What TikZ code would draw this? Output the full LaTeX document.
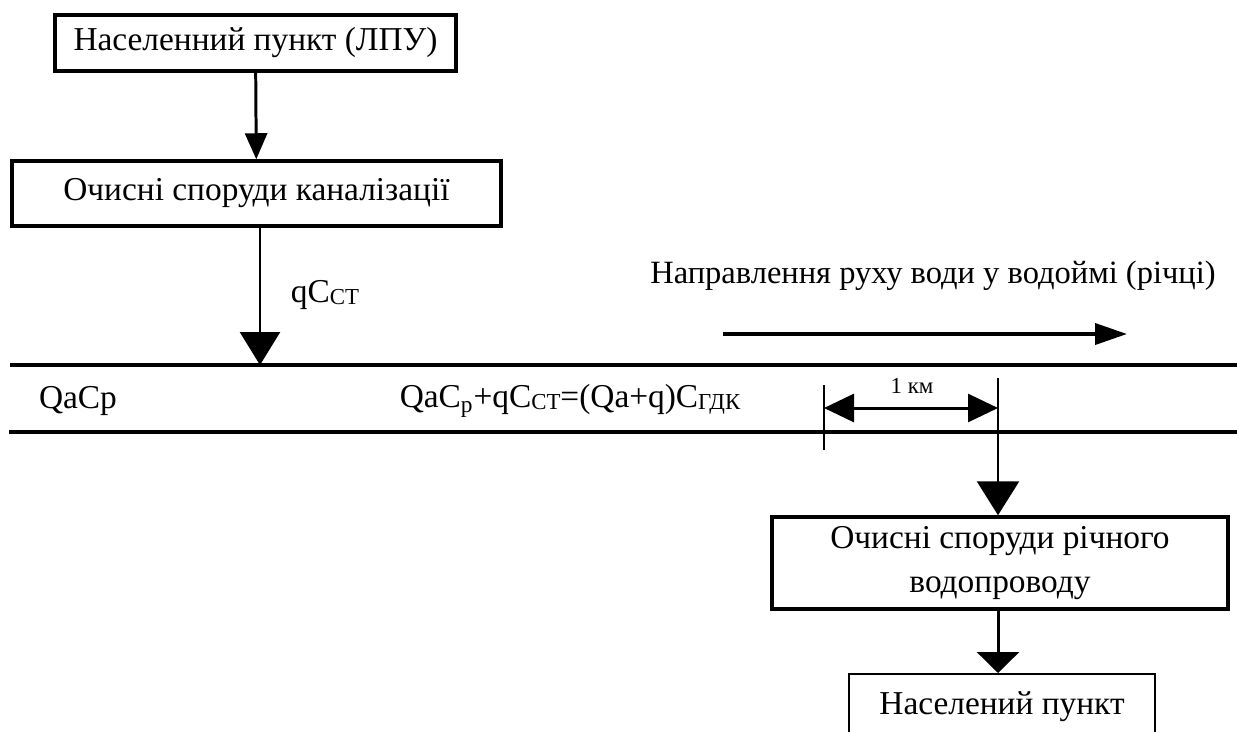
\documentclass[tikz,border=0pt]{standalone}
\usepackage{fontspec}
\setmainfont{Liberation Serif}
\usetikzlibrary{arrows.meta}
\newcommand{\lowidx}[1]{\raisebox{-0.1ex}{\fontsize{13}{13}\selectfont #1}}

\begin{document}
\begin{tikzpicture}[x=0.02cm,y=-0.02cm,
  station/.style={draw,line width=2pt,inner sep=0pt,align=center,font=\fontsize{19}{25.5}\selectfont},
  label/.style={inner sep=0pt,font=\fontsize{19}{23}\selectfont},
  bank/.style={line width=2pt},
  feed/.style={line width=1.7pt,-{Triangle[width=0.44cm,length=0.52cm]}},
  drop/.style={line width=1.5pt,-{Triangle[width=0.8cm,length=0.66cm]}}]
\useasboundingbox (0,0) rectangle (1237,731);

% river banks
\coordinate (outlet) at (260,365);
\coordinate (intake) at (998,378);
\draw[bank] (10,365) -- (1237,365);
\draw[bank] (9,432) -- (1237,432);

% boxes
\node[station,minimum width=8.02cm,minimum height=1.12cm] (lpu) at (255.5,43) {Населенний пункт (ЛПУ)};
\node[station,minimum width=9.78cm,minimum height=1.3cm] (sewer) at (256.5,193.5) {Очисні споруди каналізації};
\node[station,minimum width=9.12cm,minimum height=1.84cm] (plant) at (1000,563) {Очисні споруди річного\\водопроводу};
\node[station,line width=1.4pt,anchor=north,minimum width=6.12cm,minimum height=1.28cm] (town) at (1002,673) {Населений пункт};

% flows
\draw[feed] (lpu) -- (sewer);
\draw[drop] (sewer.south -| outlet) -- (outlet);
\draw[line width=1.5pt,-{Triangle[width=0.84cm,length=0.68cm]}] (intake) -- (intake |- plant.north);
\draw[line width=1.7pt,-{Triangle[width=0.84cm,length=0.42cm]}] (plant.south -| intake) -- (town.north -| intake);

% direction of the current
\node[label,font=\fontsize{18.5}{22}\selectfont] (dir) at (933,276) {Направлення руху води у водоймі (річці)};
\coordinate (flowA) at (723,334);
\coordinate (flowB) at (1127,334);
\draw[line width=2.2pt,-{Triangle[width=0.42cm,length=0.64cm]}] (flowA) -- (flowB);

% 1 km
\coordinate (kmL) at (824,385);
\draw[line width=1.2pt] (kmL) -- ++(0,65);
\draw[line width=1.7pt,{Triangle[width=0.56cm,length=0.6cm]}-{Triangle[width=0.56cm,length=0.6cm]}] (824,408) -- (intake |- 0,408);
\node[inner sep=0pt,font=\fontsize{13}{15}\selectfont] (km) at (912,386) {1 км};

% balance
\node[label] (qc) at (325,295) {qC\lowidx{СТ}};
\node[label] (qacp) at (78,401) {QaCp};
\node[label] (bal) at (570,401) {QaC\textsubscript{p}+qC\lowidx{СТ}=(Qa+q)C\lowidx{ГДК}};
\end{tikzpicture}
\end{document}
